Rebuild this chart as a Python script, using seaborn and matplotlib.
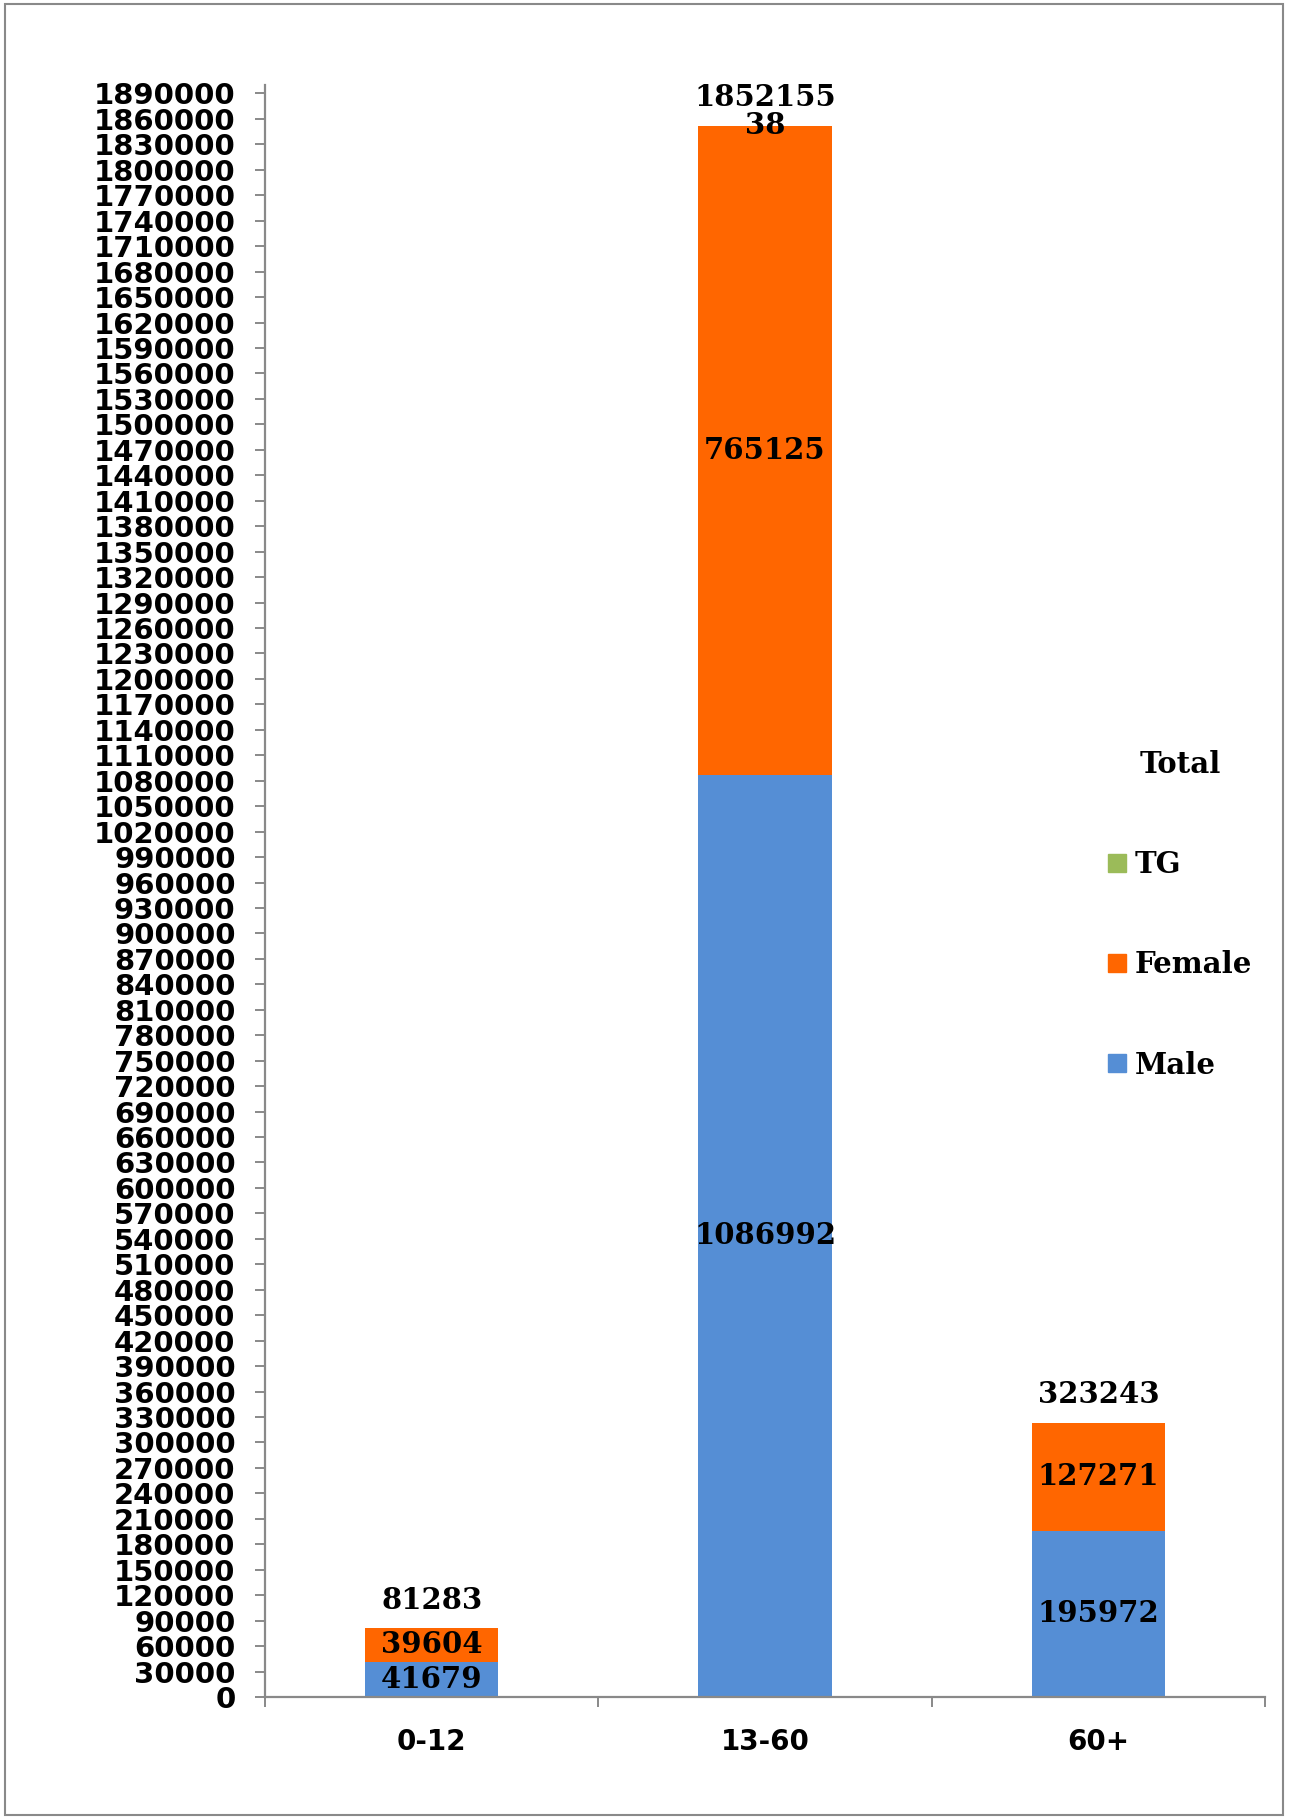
import numpy as np
import pandas as pd
import matplotlib.pyplot as plt
import matplotlib.patches as mpatches
from matplotlib.ticker import StrMethodFormatter
import seaborn as sns

# chart data
age_groups = ["0-12", "13-60", "60+"]
male = [41679, 1086992, 195972]
female = [39604, 765125, 127271]
tg = [0, 38, 0]
totals = [81283, 1852155, 323243]

male_color = "#558ED5"
female_color = "#FF6600"
tg_color = "#9BBB59"
grey = "#898989"

df = pd.DataFrame({"age": age_groups, "male": male, "female": female, "tg": tg})
df["male_female"] = df["male"] + df["female"]
df["total"] = df["male_female"] + df["tg"]

sns.set_style("white")
plt.rcParams["font.family"] = ["DejaVu Sans"]
plt.rcParams["text.color"] = "black"
plt.rcParams["xtick.labelcolor"] = "black"
plt.rcParams["ytick.labelcolor"] = "black"

fig = plt.figure(figsize=(12.9, 18.19), dpi=100)
ax = fig.add_axes([265 / 1290, 122 / 1819, 1000 / 1290, 1612 / 1819])

# stacked bars drawn from the tallest layer down
for col, c in [("total", tg_color), ("male_female", female_color), ("male", male_color)]:
    sns.barplot(data=df, x="age", y=col, color=c, width=0.4, saturation=1,
                linewidth=0, ax=ax)

ax.set_ylim(0, 1900000)
ax.set_xlim(-0.5, 2.5)
ax.set_yticks(np.arange(0, 1890001, 30000))
ax.yaxis.set_major_formatter(StrMethodFormatter("{x:.0f}"))
ax.set_xticks([-0.5, 0.5, 1.5, 2.5], minor=True)
ax.set_xlabel("")
ax.set_ylabel("")

for s in ["top", "right"]:
    ax.spines[s].set_visible(False)
for s in ["left", "bottom"]:
    ax.spines[s].set_color(grey)
    ax.spines[s].set_linewidth(1.6)

ax.tick_params(axis="y", which="major", left=True, length=7.2, width=1.4, color=grey,
               pad=14, labelsize=21, labelcolor="black")
ax.tick_params(axis="x", which="major", bottom=True, length=0, pad=22, labelsize=20,
               labelcolor="black")
ax.tick_params(axis="x", which="minor", bottom=True, length=7.2, width=1.4, color=grey)
for lab in ax.get_yticklabels() + ax.get_xticklabels():
    lab.set_fontweight("bold")

lab_font = dict(family="DejaVu Serif", fontweight="bold", fontsize=21, color="black")

for i in range(len(age_groups)):
    ax.text(i, male[i] / 2, str(male[i]), ha="center", va="center", **lab_font)
    ax.text(i, male[i] + female[i] / 2, str(female[i]), ha="center", va="center", **lab_font)
    if tg[i] > 0:
        ax.text(i, male[i] + female[i] + tg[i] / 2, str(tg[i]), ha="center", va="center", **lab_font)
    ax.annotate(str(totals[i]), (i, totals[i]), xytext=(0, 20), textcoords="offset points",
                ha="center", va="center", **lab_font)

handles = [mpatches.Patch(color=tg_color, label="TG"),
           mpatches.Patch(color=female_color, label="Female"),
           mpatches.Patch(color=male_color, label="Male")]
leg = fig.legend(handles=handles, title="Total", loc="upper left",
                 bbox_to_anchor=(1108 / 1290, 1 - 750 / 1819), frameon=False,
                 borderpad=0, borderaxespad=0, handlelength=0.6, handleheight=0.6,
                 handletextpad=0.3, labelspacing=2.44,
                 prop=dict(family="DejaVu Serif", weight="bold", size=21))
leg.get_title().set_fontproperties(dict(family="DejaVu Serif", weight="bold", size=21))
leg.get_title().set_color("black")
for t in leg.get_texts():
    t.set_color("black")

# outer chart border
fig.patches.append(mpatches.Rectangle((5 / 1290, 4 / 1819), 1278 / 1290, 1811 / 1819,
                                      transform=fig.transFigure, fill=False,
                                      edgecolor=grey, linewidth=1.5))

fig.savefig("out.png", dpi=100)
